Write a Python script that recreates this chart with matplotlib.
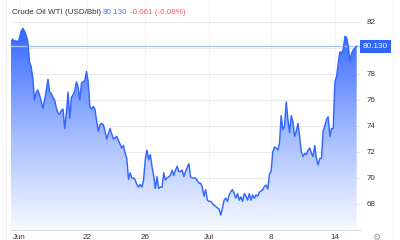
import numpy as np
import matplotlib
matplotlib.use("Agg")
import matplotlib.pyplot as plt
from matplotlib.colors import LinearSegmentedColormap
from matplotlib.lines import Line2D

# WTI price (evenly spaced samples)
prices = [
    80.49, 80.67, 80.50, 80.56, 80.41, 80.74, 81.26, 81.51, 81.30, 81.00,
    80.49, 78.95, 78.56, 77.67, 76.00, 76.60, 76.77, 76.40, 75.90, 75.36,
    76.00, 76.70, 77.60, 76.64, 76.50, 76.20, 76.00, 75.40, 75.00, 74.90,
    75.20, 75.30, 73.80, 75.00, 76.60, 74.60, 76.20, 76.40, 76.70, 77.40,
    77.00, 76.00, 77.30, 77.40, 77.50, 78.20, 77.40, 75.50, 75.30, 75.50,
    75.30, 74.40, 73.60, 74.10, 74.20, 74.10, 73.60, 73.00, 73.40, 73.80,
    73.40, 73.00, 73.10, 73.20, 72.90, 72.60, 72.30, 72.50, 71.90, 71.50,
    69.90, 70.40, 70.00, 70.00, 69.85, 69.50, 69.30, 69.50, 69.30, 69.85,
    71.40, 72.15, 71.40, 71.80, 70.90, 70.20, 69.20, 70.10, 69.20, 69.30,
    69.30, 70.40, 69.85, 70.00, 70.10, 70.20, 70.60, 70.20, 70.60, 70.90,
    70.50, 70.50, 70.60, 70.10, 70.50, 70.80, 71.10, 70.10, 70.00, 70.00,
    70.00, 69.80, 69.60, 69.60, 69.30, 68.60, 69.10, 68.30, 68.20, 68.20,
    68.05, 67.90, 67.80, 67.70, 67.60, 67.15, 67.70, 68.30, 68.45, 68.20,
    68.70, 68.95, 69.10, 68.80, 68.45, 68.80, 68.30, 68.55, 68.20, 68.80,
    68.60, 68.30, 68.80, 68.30, 68.70, 68.45, 68.70, 68.60, 68.90, 69.00,
    69.10, 69.35, 69.45, 69.15, 70.30, 70.50, 72.00, 72.40, 72.30, 72.15,
    72.70, 74.80, 73.70, 74.00, 75.85, 74.50, 73.50, 74.80, 74.30, 73.20,
    73.60, 74.20, 73.20, 72.00, 71.65, 71.90, 71.80, 72.15, 72.30, 71.90,
    71.65, 72.50, 71.50, 71.00, 71.50, 71.50, 73.60, 74.00, 74.50, 74.70,
    73.20, 73.80, 73.80, 77.40, 77.80, 78.80, 79.70, 79.60, 79.90, 80.90,
    80.80, 80.10, 79.00, 79.60, 79.85, 80.00, 80.13,
]
last_price = 80.130
change = "-0.061 (-0.08%)"
tick_labels = ["Jun", "22", "26", "Jul", "8", "14"]
tick_frac = [0.025, 0.22, 0.388, 0.573, 0.752, 0.937]  # share of the series span
y_ticks = [68, 70, 72, 74, 76, 78, 82]

blue = (0.20, 0.40, 1.0)
n = len(prices)
x = np.arange(n)
span = n - 1
xmax = span * 349.0 / 345.7

plt.rcParams["font.family"] = ["Liberation Sans", "DejaVu Sans"]
fig = plt.figure(figsize=(4, 2.4), dpi=100)
ax = fig.add_axes([11 / 400, 10 / 240, 349 / 400, 230 / 240])
ax.set_xlim(0, xmax)
ax.set_ylim(66.0, 83.69)

# grid
for t in tick_frac:
    ax.axvline(t * span, color="#f2f2f2", lw=0.8, zorder=0)
for v in [68, 70, 72, 74, 76, 78, 80, 82]:
    ax.axhline(v, color="#eaeaea", lw=0.8, zorder=0)

# gradient fill under line
cmap = LinearSegmentedColormap.from_list(
    "fade", [(0.97, 0.98, 1.0), (0.62, 0.72, 1.0), blue])
grad = np.linspace(0, 1, 256).reshape(-1, 1)
img = ax.imshow(grad, aspect="auto", cmap=cmap, origin="lower",
                extent=[0, span, 66.0, 81.6], zorder=1)
poly = ax.fill_between(x, prices, 66.0, color="none", lw=0)
img.set_clip_path(poly.get_paths()[0], transform=ax.transData)

ax.plot(x, prices, color=blue, lw=1.05, zorder=3)
ax.axhline(last_price, color="#a9c1ff", lw=0.9, zorder=2)

for s in ["top", "left", "right"]:
    ax.spines[s].set_visible(False)
ax.spines["bottom"].set_color("#dddddd")
ax.spines["bottom"].set_linewidth(0.8)

ax.set_xticks([t * span for t in tick_frac])
ax.set_xticklabels(tick_labels, fontsize=5.8, color="#333333")
ax.yaxis.tick_right()
ax.set_yticks(y_ticks)
ax.set_yticklabels([str(v) for v in y_ticks], fontsize=5.8, color="#333333")
ax.tick_params(length=0, pad=5)
ax.tick_params(axis="x", pad=3)

# last price tag
ax.text(1.008, (last_price - 66.0) / (83.69 - 66.0), "{:.3f}".format(last_price),
        transform=ax.transAxes, va="center", ha="left", fontsize=5.9,
        color="white",
        bbox=dict(boxstyle="square,pad=0.38", fc="#2f66ff", ec="none"))

# header
fig.text(12 / 400, 1 - 13 / 240, "Crude Oil WTI (USD/Bbl)", fontsize=5.8,
         color="#333333", va="center")
fig.text(103 / 400, 1 - 13 / 240, "{:.3f}".format(last_price), fontsize=5.8,
         color="#4a78ff", va="center")
fig.text(130 / 400, 1 - 13 / 240, change, fontsize=5.8,
         color="#f05a5a", va="center")

# container edges and settings glyph
fig.add_artist(Line2D([6 / 400, 6 / 400], [0, 1], color="#f0f0f0", lw=0.8))
fig.add_artist(Line2D([393 / 400, 393 / 400], [0, 1], color="#f3f3f3", lw=0.8))
fig.text(376 / 400, 1 - 237 / 240, "\u2699", fontsize=6.5, color="#999999",
         ha="center", va="center", family="DejaVu Sans")

fig.savefig("out.png", dpi=100)
